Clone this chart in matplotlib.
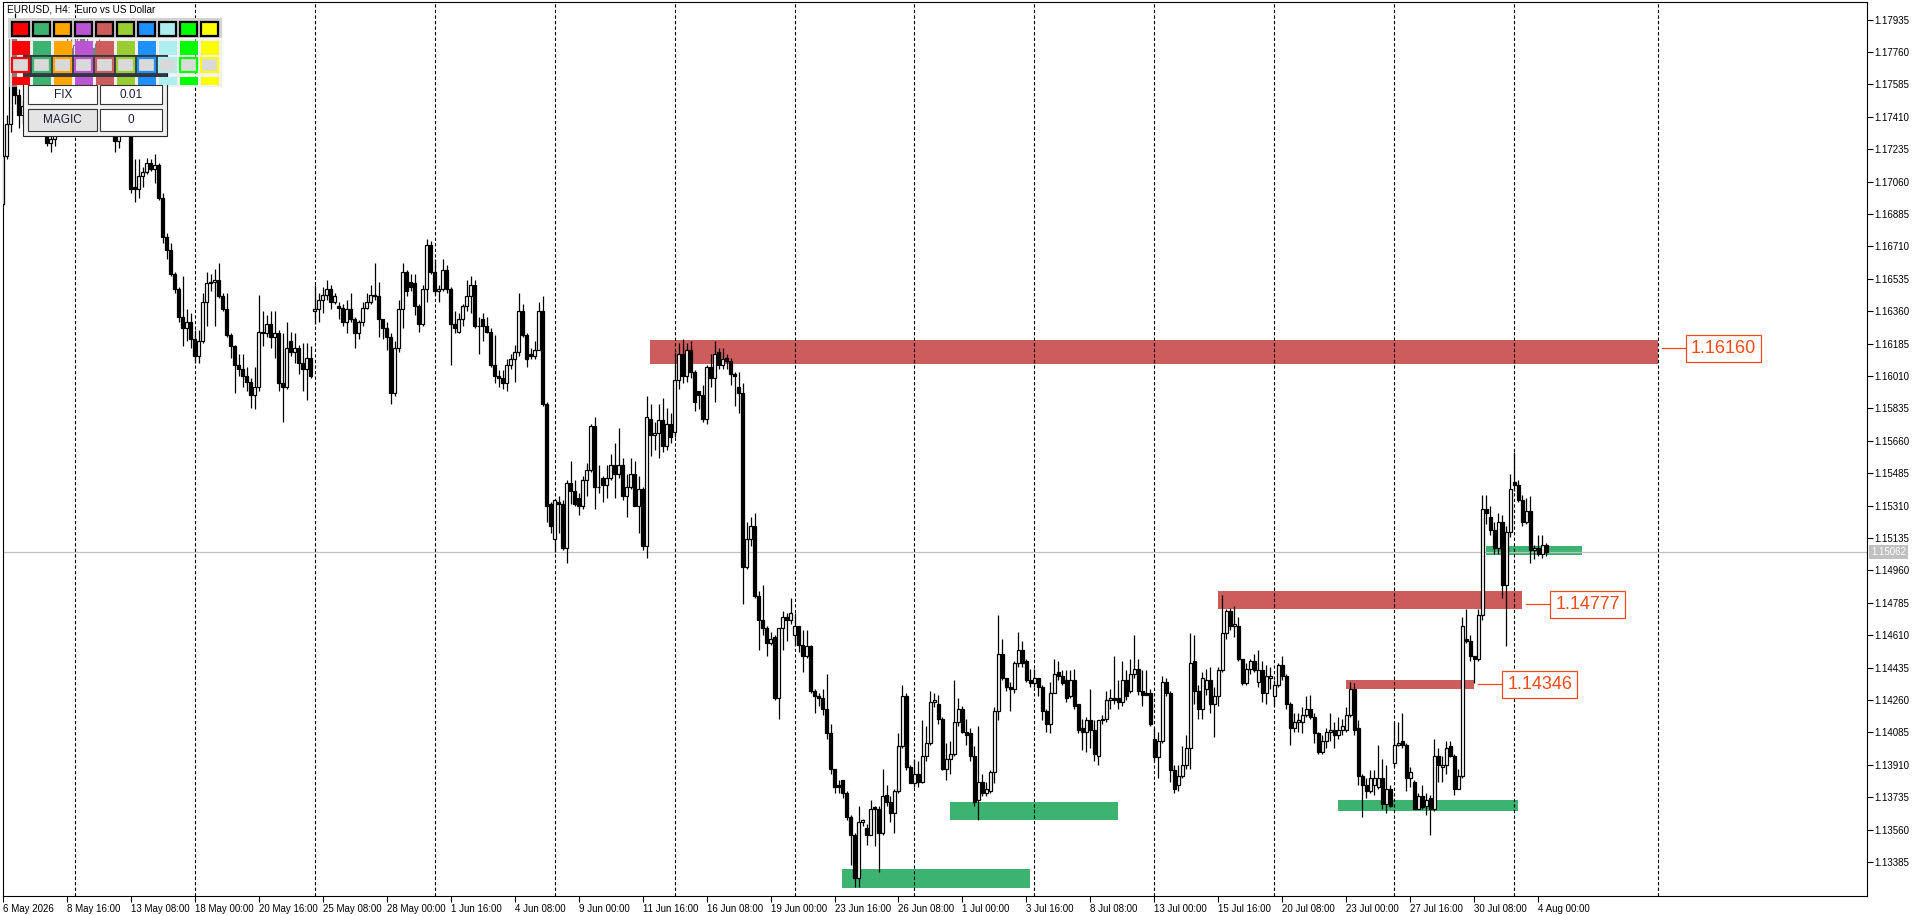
import matplotlib
matplotlib.use("Agg")
import matplotlib.pyplot as plt
from matplotlib.patches import Rectangle

plt.rcParams['font.family'] = ['Liberation Sans', 'DejaVu Sans']
plt.rcParams['lines.scale_dashes'] = True

# EURUSD H4 bars, 6 May 2026 00:00 ... 4 Aug 2026 08:00
opens = [
    1.1694, 1.1720, 1.1737, 1.1785, 1.1753, 1.1742, 1.1747, 1.1758, 1.1770, 1.1766,
    1.1755, 1.1741, 1.1727, 1.1729, 1.1745, 1.1756, 1.1770, 1.1778, 1.1772, 1.1780,
    1.1789, 1.1781, 1.1774, 1.1778, 1.1771, 1.1776, 1.1764, 1.1752, 1.1745, 1.1728,
    1.1737, 1.1742, 1.1736, 1.1703, 1.1702, 1.1709, 1.1711, 1.1716, 1.1713, 1.1715,
    1.1697, 1.1676, 1.1669, 1.1656, 1.1648, 1.1633, 1.1627, 1.1630, 1.1621, 1.1612,
    1.1620, 1.1641, 1.1651, 1.1652, 1.1653, 1.1644, 1.1637, 1.1623, 1.1617, 1.1607,
    1.1605, 1.1601, 1.1598, 1.1591, 1.1595, 1.1625, 1.1624, 1.1629, 1.1622, 1.1624,
    1.1597, 1.1595, 1.1620, 1.1614, 1.1616, 1.1608, 1.1605, 1.1611, 1.1636, 1.1637,
    1.1642, 1.1645, 1.1648, 1.1641, 1.1639, 1.1638, 1.1630, 1.1637, 1.1632, 1.1624,
    1.1630, 1.1638, 1.1641, 1.1645, 1.1644, 1.1632, 1.1627, 1.1622, 1.1592, 1.1616,
    1.1637, 1.1657, 1.1652, 1.1651, 1.1639, 1.1629, 1.1648, 1.1672, 1.1657, 1.1647,
    1.1648, 1.1658, 1.1648, 1.1629, 1.1625, 1.1632, 1.1639, 1.1644, 1.1650, 1.1628,
    1.1632, 1.1628, 1.1625, 1.1607, 1.1601, 1.1600, 1.1597, 1.1607, 1.1610, 1.1614,
    1.1636, 1.1623, 1.1613, 1.1612, 1.1615, 1.1636, 1.1586, 1.1532, 1.1513, 1.1533,
    1.1532, 1.1508, 1.1543, 1.1539, 1.1535, 1.1531, 1.1545, 1.1550, 1.1574, 1.1541,
    1.1546, 1.1542, 1.1546, 1.1553, 1.1548, 1.1553, 1.1536, 1.1541, 1.1548, 1.1531,
    1.1540, 1.1509, 1.1578, 1.1569, 1.1570, 1.1577, 1.1563, 1.1575, 1.1571, 1.1599,
    1.1613, 1.1601, 1.1615, 1.1603, 1.1593, 1.1591, 1.1578, 1.1606, 1.1600, 1.1614,
    1.1607, 1.1611, 1.1609, 1.1602, 1.1595, 1.1592, 1.1498, 1.1513, 1.1520, 1.1482,
    1.1469, 1.1465, 1.1457, 1.1460, 1.1427, 1.1465, 1.1471, 1.1469, 1.1461, 1.1466,
    1.1456, 1.1450, 1.1455, 1.1431, 1.1428, 1.1427, 1.1421, 1.1408, 1.1389, 1.1380,
    1.1383, 1.1376, 1.1363, 1.1353, 1.1330, 1.1360, 1.1357, 1.1353, 1.1368, 1.1367,
    1.1354, 1.1375, 1.1371, 1.1365, 1.1377, 1.1401, 1.1428, 1.1390, 1.1381, 1.1386,
    1.1382, 1.1396, 1.1403, 1.1425, 1.1424, 1.1416, 1.1389, 1.1394, 1.1397, 1.1414,
    1.1421, 1.1409, 1.1408, 1.1396, 1.1372, 1.1382, 1.1376, 1.1377, 1.1387, 1.1420,
    1.1451, 1.1438, 1.1433, 1.1432, 1.1446, 1.1453, 1.1447, 1.1437, 1.1435, 1.1438,
    1.1433, 1.1420, 1.1413, 1.1430, 1.1441, 1.1439, 1.1437, 1.1428, 1.1437, 1.1424,
    1.1411, 1.1409, 1.1415, 1.1410, 1.1396, 1.1415, 1.1416, 1.1426, 1.1427, 1.1427,
    1.1425, 1.1437, 1.1431, 1.1440, 1.1443, 1.1431, 1.1430, 1.1430, 1.1405, 1.1395,
    1.1404, 1.1436, 1.1430, 1.1388, 1.1380, 1.1385, 1.1391, 1.1400, 1.1447, 1.1431,
    1.1421, 1.1432, 1.1437, 1.1424, 1.1428, 1.1442, 1.1462, 1.1474, 1.1466, 1.1466,
    1.1448, 1.1435, 1.1443, 1.1447, 1.1436, 1.1442, 1.1430, 1.1438, 1.1428, 1.1434,
    1.1445, 1.1439, 1.1424, 1.1411, 1.1414, 1.1414, 1.1418, 1.1421, 1.1417, 1.1408,
    1.1398, 1.1404, 1.1409, 1.1410, 1.1407, 1.1410, 1.1410, 1.1418, 1.1432, 1.1411,
    1.1385, 1.1380, 1.1377, 1.1380, 1.1379, 1.1384, 1.1370, 1.1378, 1.1392, 1.1402,
    1.1404, 1.1402, 1.1384, 1.1382, 1.1367, 1.1374, 1.1369, 1.1373, 1.1367, 1.1396,
    1.1390, 1.1391, 1.1401, 1.1396, 1.1378, 1.1385, 1.1459, 1.1458, 1.1450, 1.1448,
    1.1472, 1.1529, 1.1525, 1.1518, 1.1508, 1.1522, 1.1488, 1.1517, 1.1544, 1.1542,
    1.1534, 1.1522, 1.1528, 1.1507, 1.1508, 1.1505, 1.1510,
]
highs = [
    1.1721, 1.1742, 1.1790, 1.1797, 1.1756, 1.1750, 1.1762, 1.1774, 1.1776, 1.1769,
    1.1758, 1.1746, 1.1742, 1.1750, 1.1759, 1.1774, 1.1785, 1.1783, 1.1786, 1.1788,
    1.1793, 1.1785, 1.1782, 1.1781, 1.1783, 1.1779, 1.1767, 1.1756, 1.1748, 1.1741,
    1.1747, 1.1746, 1.1739, 1.1718, 1.1718, 1.1714, 1.1719, 1.1718, 1.1721, 1.1716,
    1.1700, 1.1678, 1.1673, 1.1657, 1.1649, 1.1655, 1.1637, 1.1635, 1.1626, 1.1626,
    1.1646, 1.1657, 1.1656, 1.1659, 1.1662, 1.1646, 1.1646, 1.1624, 1.1618, 1.1613,
    1.1613, 1.1606, 1.1600, 1.1606, 1.1645, 1.1636, 1.1634, 1.1636, 1.1636, 1.1626,
    1.1624, 1.1630, 1.1625, 1.1624, 1.1618, 1.1619, 1.1619, 1.1617, 1.1650, 1.1646,
    1.1649, 1.1653, 1.1650, 1.1646, 1.1641, 1.1640, 1.1642, 1.1646, 1.1633, 1.1631,
    1.1641, 1.1646, 1.1650, 1.1662, 1.1652, 1.1632, 1.1630, 1.1624, 1.1620, 1.1642,
    1.1662, 1.1658, 1.1656, 1.1656, 1.1640, 1.1650, 1.1675, 1.1674, 1.1664, 1.1650,
    1.1664, 1.1661, 1.1649, 1.1636, 1.1635, 1.1640, 1.1653, 1.1655, 1.1653, 1.1633,
    1.1635, 1.1633, 1.1627, 1.1623, 1.1604, 1.1604, 1.1610, 1.1613, 1.1618, 1.1646,
    1.1640, 1.1624, 1.1616, 1.1620, 1.1641, 1.1644, 1.1587, 1.1533, 1.1534, 1.1536,
    1.1534, 1.1545, 1.1555, 1.1545, 1.1538, 1.1547, 1.1554, 1.1575, 1.1579, 1.1553,
    1.1547, 1.1553, 1.1559, 1.1565, 1.1573, 1.1557, 1.1548, 1.1557, 1.1555, 1.1547,
    1.1541, 1.1590, 1.1586, 1.1576, 1.1586, 1.1589, 1.1584, 1.1581, 1.1614, 1.1619,
    1.1621, 1.1619, 1.1620, 1.1604, 1.1593, 1.1596, 1.1607, 1.1613, 1.1620, 1.1616,
    1.1616, 1.1613, 1.1611, 1.1603, 1.1603, 1.1597, 1.1522, 1.1525, 1.1527, 1.1485,
    1.1488, 1.1466, 1.1463, 1.1461, 1.1465, 1.1474, 1.1473, 1.1481, 1.1473, 1.1466,
    1.1464, 1.1464, 1.1456, 1.1432, 1.1430, 1.1432, 1.1440, 1.1413, 1.1389, 1.1383,
    1.1383, 1.1377, 1.1364, 1.1354, 1.1369, 1.1362, 1.1359, 1.1372, 1.1369, 1.1369,
    1.1389, 1.1380, 1.1374, 1.1378, 1.1408, 1.1434, 1.1430, 1.1391, 1.1394, 1.1393,
    1.1415, 1.1412, 1.1431, 1.1430, 1.1429, 1.1417, 1.1403, 1.1404, 1.1437, 1.1427,
    1.1423, 1.1416, 1.1411, 1.1401, 1.1412, 1.1386, 1.1382, 1.1388, 1.1422, 1.1472,
    1.1459, 1.1438, 1.1436, 1.1447, 1.1463, 1.1458, 1.1448, 1.1443, 1.1443, 1.1438,
    1.1434, 1.1421, 1.1436, 1.1448, 1.1447, 1.1442, 1.1442, 1.1442, 1.1443, 1.1424,
    1.1416, 1.1417, 1.1432, 1.1415, 1.1415, 1.1418, 1.1431, 1.1432, 1.1450, 1.1437,
    1.1447, 1.1442, 1.1448, 1.1461, 1.1448, 1.1442, 1.1442, 1.1432, 1.1411, 1.1409,
    1.1439, 1.1438, 1.1431, 1.1391, 1.1391, 1.1401, 1.1407, 1.1462, 1.1461, 1.1434,
    1.1441, 1.1443, 1.1444, 1.1433, 1.1444, 1.1483, 1.1475, 1.1476, 1.1477, 1.1471,
    1.1448, 1.1446, 1.1448, 1.1451, 1.1453, 1.1447, 1.1445, 1.1444, 1.1437, 1.1446,
    1.1450, 1.1440, 1.1425, 1.1419, 1.1419, 1.1422, 1.1428, 1.1429, 1.1419, 1.1409,
    1.1407, 1.1411, 1.1419, 1.1414, 1.1417, 1.1416, 1.1422, 1.1436, 1.1435, 1.1415,
    1.1386, 1.1384, 1.1388, 1.1388, 1.1402, 1.1394, 1.1391, 1.1380, 1.1414, 1.1414,
    1.1419, 1.1403, 1.1390, 1.1383, 1.1376, 1.1380, 1.1376, 1.1375, 1.1405, 1.1400,
    1.1396, 1.1404, 1.1404, 1.1397, 1.1389, 1.1471, 1.1475, 1.1461, 1.1450, 1.1475,
    1.1537, 1.1537, 1.1531, 1.1522, 1.1527, 1.1526, 1.1520, 1.1548, 1.1560, 1.1545,
    1.1537, 1.1535, 1.1536, 1.1510, 1.1515, 1.1515, 1.1511,
]
lows = [
    1.1693, 1.1718, 1.1733, 1.1748, 1.1735, 1.1737, 1.1744, 1.1755, 1.1760, 1.1751,
    1.1737, 1.1725, 1.1722, 1.1725, 1.1741, 1.1752, 1.1766, 1.1768, 1.1769, 1.1776,
    1.1777, 1.1770, 1.1769, 1.1766, 1.1765, 1.1760, 1.1748, 1.1740, 1.1722, 1.1724,
    1.1733, 1.1732, 1.1700, 1.1695, 1.1697, 1.1703, 1.1710, 1.1712, 1.1705, 1.1696,
    1.1673, 1.1664, 1.1655, 1.1646, 1.1630, 1.1617, 1.1620, 1.1616, 1.1608, 1.1608,
    1.1619, 1.1628, 1.1647, 1.1628, 1.1643, 1.1636, 1.1622, 1.1611, 1.1592, 1.1601,
    1.1595, 1.1593, 1.1584, 1.1583, 1.1593, 1.1617, 1.1622, 1.1616, 1.1611, 1.1593,
    1.1576, 1.1594, 1.1612, 1.1608, 1.1602, 1.1593, 1.1588, 1.1600, 1.1629, 1.1630,
    1.1635, 1.1642, 1.1637, 1.1640, 1.1632, 1.1628, 1.1624, 1.1630, 1.1616, 1.1621,
    1.1628, 1.1637, 1.1640, 1.1642, 1.1622, 1.1621, 1.1615, 1.1586, 1.1590, 1.1614,
    1.1627, 1.1644, 1.1647, 1.1634, 1.1625, 1.1628, 1.1641, 1.1656, 1.1645, 1.1641,
    1.1647, 1.1646, 1.1607, 1.1624, 1.1624, 1.1628, 1.1636, 1.1635, 1.1627, 1.1613,
    1.1620, 1.1624, 1.1606, 1.1597, 1.1595, 1.1594, 1.1593, 1.1605, 1.1598, 1.1612,
    1.1622, 1.1606, 1.1610, 1.1610, 1.1615, 1.1585, 1.1522, 1.1516, 1.1506, 1.1516,
    1.1507, 1.1500, 1.1532, 1.1531, 1.1526, 1.1529, 1.1536, 1.1549, 1.1529, 1.1538,
    1.1533, 1.1535, 1.1545, 1.1535, 1.1546, 1.1534, 1.1525, 1.1540, 1.1531, 1.1516,
    1.1507, 1.1503, 1.1558, 1.1561, 1.1557, 1.1560, 1.1561, 1.1565, 1.1568, 1.1594,
    1.1597, 1.1598, 1.1600, 1.1582, 1.1583, 1.1576, 1.1575, 1.1595, 1.1587, 1.1605,
    1.1605, 1.1605, 1.1596, 1.1585, 1.1581, 1.1478, 1.1497, 1.1509, 1.1481, 1.1453,
    1.1461, 1.1450, 1.1456, 1.1426, 1.1416, 1.1453, 1.1458, 1.1467, 1.1456, 1.1452,
    1.1441, 1.1449, 1.1430, 1.1419, 1.1423, 1.1418, 1.1405, 1.1386, 1.1376, 1.1376,
    1.1373, 1.1361, 1.1337, 1.1325, 1.1325, 1.1358, 1.1348, 1.1353, 1.1347, 1.1333,
    1.1353, 1.1369, 1.1360, 1.1354, 1.1376, 1.1400, 1.1388, 1.1381, 1.1379, 1.1379,
    1.1381, 1.1393, 1.1402, 1.1422, 1.1413, 1.1388, 1.1383, 1.1386, 1.1396, 1.1412,
    1.1408, 1.1402, 1.1393, 1.1369, 1.1361, 1.1374, 1.1374, 1.1376, 1.1381, 1.1415,
    1.1437, 1.1431, 1.1420, 1.1430, 1.1444, 1.1444, 1.1436, 1.1433, 1.1433, 1.1428,
    1.1415, 1.1409, 1.1408, 1.1430, 1.1437, 1.1434, 1.1425, 1.1427, 1.1421, 1.1408,
    1.1399, 1.1398, 1.1400, 1.1393, 1.1391, 1.1413, 1.1414, 1.1421, 1.1424, 1.1421,
    1.1423, 1.1426, 1.1430, 1.1438, 1.1429, 1.1423, 1.1429, 1.1412, 1.1393, 1.1384,
    1.1403, 1.1428, 1.1382, 1.1376, 1.1377, 1.1384, 1.1389, 1.1389, 1.1424, 1.1416,
    1.1416, 1.1429, 1.1419, 1.1406, 1.1423, 1.1441, 1.1459, 1.1464, 1.1460, 1.1447,
    1.1434, 1.1434, 1.1440, 1.1441, 1.1433, 1.1425, 1.1424, 1.1432, 1.1423, 1.1433,
    1.1437, 1.1421, 1.1402, 1.1409, 1.1409, 1.1408, 1.1417, 1.1416, 1.1403, 1.1397,
    1.1397, 1.1400, 1.1404, 1.1400, 1.1405, 1.1407, 1.1409, 1.1417, 1.1407, 1.1380,
    1.1363, 1.1373, 1.1376, 1.1375, 1.1378, 1.1367, 1.1365, 1.1368, 1.1390, 1.1401,
    1.1400, 1.1377, 1.1379, 1.1367, 1.1367, 1.1367, 1.1364, 1.1353, 1.1366, 1.1382,
    1.1382, 1.1386, 1.1395, 1.1375, 1.1378, 1.1384, 1.1457, 1.1447, 1.1435, 1.1447,
    1.1469, 1.1521, 1.1515, 1.1505, 1.1505, 1.1481, 1.1455, 1.1514, 1.1539, 1.1533,
    1.1520, 1.1521, 1.1500, 1.1502, 1.1504, 1.1503, 1.1504,
]
closes = [
    1.1720, 1.1737, 1.1785, 1.1753, 1.1742, 1.1747, 1.1758, 1.1770, 1.1766, 1.1755,
    1.1741, 1.1727, 1.1729, 1.1745, 1.1756, 1.1770, 1.1778, 1.1772, 1.1780, 1.1784,
    1.1781, 1.1774, 1.1778, 1.1771, 1.1776, 1.1764, 1.1752, 1.1745, 1.1728, 1.1737,
    1.1742, 1.1736, 1.1702, 1.1702, 1.1709, 1.1711, 1.1716, 1.1713, 1.1715, 1.1697,
    1.1676, 1.1669, 1.1656, 1.1648, 1.1633, 1.1627, 1.1630, 1.1621, 1.1612, 1.1620,
    1.1641, 1.1651, 1.1652, 1.1653, 1.1644, 1.1637, 1.1623, 1.1617, 1.1607, 1.1605,
    1.1601, 1.1598, 1.1591, 1.1595, 1.1625, 1.1624, 1.1629, 1.1622, 1.1624, 1.1597,
    1.1595, 1.1616, 1.1614, 1.1616, 1.1608, 1.1605, 1.1611, 1.1601, 1.1637, 1.1642,
    1.1645, 1.1648, 1.1641, 1.1644, 1.1638, 1.1630, 1.1637, 1.1632, 1.1624, 1.1630,
    1.1638, 1.1641, 1.1645, 1.1644, 1.1632, 1.1627, 1.1622, 1.1592, 1.1616, 1.1637,
    1.1657, 1.1647, 1.1649, 1.1639, 1.1629, 1.1648, 1.1672, 1.1657, 1.1647, 1.1648,
    1.1658, 1.1648, 1.1629, 1.1627, 1.1632, 1.1639, 1.1644, 1.1650, 1.1628, 1.1628,
    1.1628, 1.1625, 1.1607, 1.1601, 1.1600, 1.1597, 1.1607, 1.1610, 1.1614, 1.1636,
    1.1623, 1.1610, 1.1612, 1.1615, 1.1636, 1.1586, 1.1531, 1.1520, 1.1534, 1.1532,
    1.1508, 1.1543, 1.1539, 1.1532, 1.1531, 1.1545, 1.1550, 1.1574, 1.1541, 1.1541,
    1.1542, 1.1546, 1.1553, 1.1548, 1.1553, 1.1536, 1.1541, 1.1548, 1.1531, 1.1540,
    1.1509, 1.1579, 1.1569, 1.1570, 1.1577, 1.1563, 1.1575, 1.1568, 1.1599, 1.1613,
    1.1601, 1.1615, 1.1603, 1.1587, 1.1591, 1.1578, 1.1606, 1.1600, 1.1613, 1.1607,
    1.1610, 1.1609, 1.1602, 1.1601, 1.1592, 1.1498, 1.1513, 1.1520, 1.1482, 1.1469,
    1.1465, 1.1457, 1.1459, 1.1427, 1.1465, 1.1471, 1.1469, 1.1473, 1.1466, 1.1456,
    1.1450, 1.1455, 1.1431, 1.1428, 1.1427, 1.1421, 1.1408, 1.1389, 1.1379, 1.1379,
    1.1376, 1.1363, 1.1353, 1.1330, 1.1360, 1.1361, 1.1353, 1.1367, 1.1367, 1.1354,
    1.1374, 1.1371, 1.1365, 1.1377, 1.1401, 1.1428, 1.1390, 1.1381, 1.1386, 1.1382,
    1.1396, 1.1403, 1.1425, 1.1426, 1.1416, 1.1389, 1.1394, 1.1397, 1.1414, 1.1421,
    1.1409, 1.1407, 1.1396, 1.1371, 1.1382, 1.1376, 1.1378, 1.1387, 1.1420, 1.1451,
    1.1438, 1.1433, 1.1432, 1.1446, 1.1453, 1.1446, 1.1437, 1.1435, 1.1438, 1.1433,
    1.1420, 1.1413, 1.1430, 1.1440, 1.1439, 1.1435, 1.1427, 1.1437, 1.1423, 1.1410,
    1.1409, 1.1415, 1.1410, 1.1397, 1.1415, 1.1416, 1.1426, 1.1427, 1.1426, 1.1425,
    1.1437, 1.1428, 1.1440, 1.1443, 1.1431, 1.1429, 1.1429, 1.1413, 1.1395, 1.1404,
    1.1436, 1.1430, 1.1388, 1.1378, 1.1385, 1.1391, 1.1400, 1.1446, 1.1431, 1.1421,
    1.1438, 1.1437, 1.1424, 1.1428, 1.1442, 1.1462, 1.1474, 1.1466, 1.1467, 1.1448,
    1.1435, 1.1443, 1.1447, 1.1442, 1.1442, 1.1430, 1.1439, 1.1439, 1.1434, 1.1445,
    1.1439, 1.1424, 1.1411, 1.1414, 1.1415, 1.1418, 1.1421, 1.1417, 1.1408, 1.1398,
    1.1404, 1.1409, 1.1410, 1.1407, 1.1410, 1.1412, 1.1418, 1.1432, 1.1410, 1.1385,
    1.1380, 1.1377, 1.1384, 1.1384, 1.1384, 1.1370, 1.1378, 1.1369, 1.1402, 1.1403,
    1.1402, 1.1384, 1.1387, 1.1367, 1.1374, 1.1368, 1.1372, 1.1367, 1.1396, 1.1391,
    1.1391, 1.1400, 1.1396, 1.1378, 1.1385, 1.1466, 1.1458, 1.1450, 1.1448, 1.1472,
    1.1529, 1.1527, 1.1518, 1.1508, 1.1522, 1.1488, 1.1517, 1.1540, 1.1542, 1.1534,
    1.1522, 1.1528, 1.1507, 1.1508, 1.1505, 1.1510, 1.15062,
]

time_labels = ["6 May 2026", "8 May 16:00", "13 May 08:00", "18 May 00:00", "20 May 16:00",
               "25 May 08:00", "28 May 00:00", "1 Jun 16:00", "4 Jun 08:00", "9 Jun 00:00",
               "11 Jun 16:00", "16 Jun 08:00", "19 Jun 00:00", "23 Jun 16:00", "26 Jun 08:00",
               "1 Jul 00:00", "3 Jul 16:00", "8 Jul 08:00", "13 Jul 00:00", "15 Jul 16:00",
               "20 Jul 08:00", "23 Jul 00:00", "27 Jul 16:00", "30 Jul 08:00", "4 Aug 00:00"]
label_bars = [16 * k for k in range(len(time_labels))]
week_bars = [18, 48, 78, 108, 138, 168, 198, 228, 258, 288, 318, 348, 378, 414]

price_ticks = [1.17935, 1.17760, 1.17585, 1.17410, 1.17235, 1.17060, 1.16885, 1.16710,
               1.16535, 1.16360, 1.16185, 1.16010, 1.15835, 1.15660, 1.15485, 1.15310,
               1.15135, 1.14960, 1.14785, 1.14610, 1.14435, 1.14260, 1.14085, 1.13910,
               1.13735, 1.13560, 1.13385]
last_price = 1.15062

# supply zones (red) with their level labels
supply_start = [161.9, 303.9, 335.9]
supply_end = [413.9, 379.9, 367.9]
supply_low = [1.16075, 1.14750, 1.14322]
supply_high = [1.16203, 1.14847, 1.14366]
supply_level = [1.16160, 1.14777, 1.14346]

# demand zones (green)
demand_start = [209.8, 236.9, 333.9, 370.9]
demand_end = [257.0, 278.9, 378.9, 394.9]
demand_low = [1.13247, 1.13612, 1.13663, 1.15044]
demand_high = [1.13346, 1.13709, 1.13721, 1.15093]

swatch_colors = ['#FF0000', '#3CB371', '#FFA500', '#BA55D3', '#CD5C5C',
                 '#9ACD32', '#1E90FF', '#AFEEEE', '#00FF00', '#FFFF00']

RED = '#CD5C5C'
GREEN = '#3CB371'
LABEL = '#F04A18'
W, H = 1920, 915

fig = plt.figure(figsize=(W / 100, H / 100), dpi=100)
fig.patch.set_facecolor('white')
left_px, right_px, top_px, bottom_px = 2.7, 1867, 2, 896
ax = fig.add_axes([left_px / W, 1 - bottom_px / H, (right_px - left_px) / W, (bottom_px - top_px) / H])
ax.set_xlim(0.1, 466.18)
ax.set_ylim(1.13202, 1.18030)

# zones
for x0, x1, lo, hi in zip(supply_start, supply_end, supply_low, supply_high):
    ax.add_patch(Rectangle((x0, lo), x1 - x0, hi - lo, facecolor=RED, edgecolor='none', zorder=1))
for x0, x1, lo, hi in zip(demand_start, demand_end, demand_low, demand_high):
    ax.add_patch(Rectangle((x0, lo), x1 - x0, hi - lo, facecolor=GREEN, edgecolor='none', zorder=1))

# week separators
for b in week_bars:
    ax.axvline(b, color='black', lw=0.8, ls=(0, (3, 2)), zorder=2)

# last price line
ax.axhline(last_price, color='#C0C0C0', lw=0.9, zorder=2.5)

# candles
n = min(len(opens), len(highs), len(lows), len(closes))
xs = list(range(n))
tops = [max(opens[i], closes[i]) for i in xs]
bots = [min(opens[i], closes[i]) for i in xs]
ax.vlines(xs, [min(lows[i], bots[i]) for i in xs], [max(highs[i], tops[i]) for i in xs],
          color='black', lw=0.9, zorder=3)
faces = ['white' if closes[i] >= opens[i] else 'black' for i in xs]
ax.bar(xs, [tops[i] - bots[i] for i in xs], bottom=bots, width=0.6, color=faces,
       edgecolor='black', linewidth=0.9, zorder=4)

# level labels
for end, lvl in zip(supply_end, supply_level):
    ax.plot([end + 1.0, end + 6.8], [lvl, lvl], color=LABEL, lw=0.9, zorder=5)
    ax.text(end + 8.3, lvl, f"{lvl:.5f}", color=LABEL, fontsize=13, ha='left', va='center', zorder=6,
            bbox=dict(boxstyle='square,pad=0.28', fc='white', ec=LABEL, lw=0.9))

# axes look
for sp in ax.spines.values():
    sp.set_color('black')
    sp.set_linewidth(0.8)
ax.yaxis.tick_right()
ax.set_yticks(price_ticks)
ax.set_yticklabels([f"{v:.5f}" for v in price_ticks])
ax.set_xticks(label_bars)
ax.set_xticklabels(time_labels)
for lbl in ax.get_xticklabels():
    lbl.set_horizontalalignment('left')
ax.tick_params(axis='both', direction='out', length=4, width=0.8, labelsize=7, pad=1.5, colors='black')
ax.annotate(f"{last_price:.5f}", xy=(1, last_price), xycoords=('axes fraction', 'data'),
            xytext=(4, 0), textcoords='offset pixels', ha='left', va='center', fontsize=7,
            color='white', bbox=dict(boxstyle='square,pad=0.2', fc='#C0C0C0', ec='none'),
            annotation_clip=False)

# overlay for the trading panel (pixel coordinates)
ov = fig.add_axes([0, 0, 1, 1], zorder=10)
ov.set_xlim(0, W)
ov.set_ylim(H, 0)
ov.axis('off')
ov.patch.set_alpha(0)


def box(x, y, w, h, **kw):
    ov.add_patch(Rectangle((x, y), w, h, **kw))


ov.text(7, 9.5, "EURUSD, H4:  Euro vs US Dollar", fontsize=7.2, ha='left', va='center')

# color picker panel
box(8.3, 39.3, 213.4, 47.4, facecolor='#E6E6E6', edgecolor='none', alpha=0.55)
box(8.3, 18.3, 213.4, 20, facecolor='#D2D2D2', edgecolor='none')
box(8.3, 38.3, 213.4, 1.2, facecolor='#F4F4F4', edgecolor='none')

# order panel behind swatches
box(23.3, 55, 143.4, 81, facecolor='#F0F0F0', edgecolor='#222222', lw=0.8)
box(23.3, 55, 143.4, 21.7, facecolor='#333840', edgecolor='none')

for k, col in enumerate(swatch_colors):
    x = 12.3 + 21 * k
    box(x - 0.6, 40.7, 18.3, 14.3, facecolor=col, edgecolor='none')
    box(x - 0.6, 76.7, 18.3, 8.3, facecolor=col, edgecolor='none')
    box(x, 58.2, 17, 13.3, facecolor='#D9D9D9', edgecolor=col, lw=1.6)
    box(x, 22, 17, 14, facecolor=col, edgecolor='black', lw=1.6)

# buttons
box(28.3, 85.2, 69, 18.3, facecolor='#FFFFFF', edgecolor='#333333', lw=0.8)
box(100, 85.2, 62.3, 18.3, facecolor='#FFFFFF', edgecolor='#333333', lw=0.8)
box(28.3, 109.3, 69, 21.4, facecolor='#E4E4E4', edgecolor='#333333', lw=0.8)
box(100, 109.3, 62.3, 21.4, facecolor='#FFFFFF', edgecolor='#333333', lw=0.8)
ov.text(62.8, 94.5, "FIX", fontsize=8.5, ha='center', va='center', color='#1A1A38')
ov.text(131.2, 94.5, "0.01", fontsize=8.5, ha='center', va='center', color='#1A1A38')
ov.text(62.8, 120.3, "MAGIC", fontsize=8.5, ha='center', va='center', color='#1A1A38')
ov.text(131.2, 120.3, "0", fontsize=8.5, ha='center', va='center', color='#1A1A38')

fig.savefig('out.png', dpi=100, facecolor='white')
